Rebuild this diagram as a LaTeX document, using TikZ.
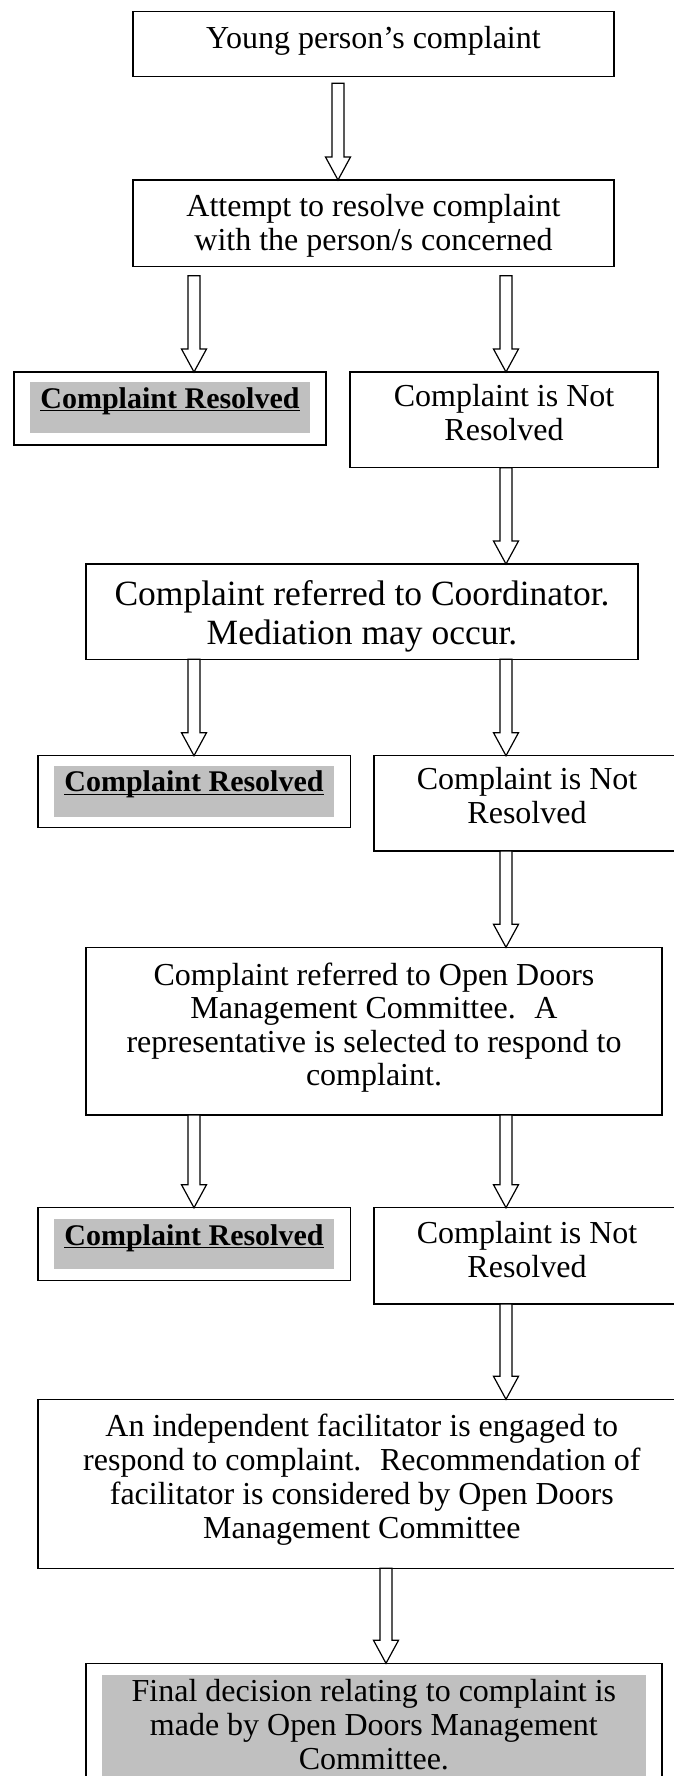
\documentclass[tikz,border=0pt]{standalone}
\usepackage{fontspec}
\setmainfont{Liberation Serif}
\usetikzlibrary{calc}
\definecolor{grayfill}{HTML}{C0C0C0}
\newcommand\myul[1]{\setbox0\hbox{#1}\rlap{\rule[-3.2bp]{\wd0}{1.3bp}}\box0}
\newcommand\blockarr[2]{%
  \draw[blockarrow] let \p1=(#1), \p2=(#2) in
    (\x1-6bp,\y1) -- (\x1+6bp,\y1) -- (\x1+6bp,\y2+23bp) -- (\x1+12.5bp,\y2+23bp)
    -- (\x1,\y2) -- (\x1-12.5bp,\y2+23bp) -- (\x1-6bp,\y2+23bp) -- cycle;}
\begin{document}
\begin{tikzpicture}[x=1bp,y=-1bp,
  box/.style={draw=black, line width=1.5bp, fill=white, inner sep=0pt, outer sep=0pt,
    anchor=north west, align=center, font=\fontsize{32bp}{34bp}\selectfont},
  graybox/.style={fill=grayfill, inner sep=0pt, outer sep=0pt, anchor=north west,
    align=center, font=\bfseries\fontsize{30bp}{34bp}\selectfont},
  blockarrow/.style={draw=black, fill=white, line width=1.2bp, line join=miter}]
\fill[white] (0,0) rectangle (674,1776);
\useasboundingbox (0,0) rectangle (674,1776);

\coordinate (xA) at (338,0);
\coordinate (xL) at (194,0);
\coordinate (xR) at (506,0);
\coordinate (xB) at (386,0);

\node[box, minimum width=481bp, text height=36.6bp, text depth=28bp] (b1) at (133,11.7)
  {Young person’s complaint};
\node[box, minimum width=481bp, text height=70.7bp, text depth=16bp] (b2) at (133,180)
  {Attempt to resolve complaint\\with the person/s concerned};

\node[box, minimum width=312bp, minimum height=73bp] (cr1) at (14,372) {};
\node[graybox, minimum width=280bp, text height=26bp, text depth=24.7bp] (g1) at (30,382)
  {\myul{Complaint Resolved}};
\node[box, minimum width=308bp, text height=68bp, text depth=27.7bp] (nr1) at (350,372)
  {Complaint is Not\\Resolved};

\node[box, minimum width=552bp, text height=80bp, text depth=15.3bp,
  font=\fontsize{35.5bp}{39bp}\selectfont] (co) at (86,564)
  {Complaint referred to Coordinator.\\Mediation may occur.};

\node[box, minimum width=312.4bp, minimum height=72bp] (cr2) at (38,755.7) {};
\node[graybox, minimum width=280bp, text height=25.7bp, text depth=25bp] (g2) at (54,766)
  {\myul{Complaint Resolved}};
\node[box, minimum width=306bp, text height=67.6bp, text depth=27.7bp] (nr2) at (374,755.7)
  {Complaint is Not\\Resolved};

\node[box, minimum width=576bp, text height=138.4bp, text depth=29.3bp,
  font=\fontsize{32bp}{33.5bp}\selectfont] (od) at (86,947.3)
  {Complaint referred to Open Doors\\Management Committee.~ A\\representative is selected to respond to\\complaint.};

\node[box, minimum width=312.4bp, minimum height=73bp] (cr3) at (38,1207.7) {};
\node[graybox, minimum width=280bp, text height=25.7bp, text depth=24.3bp] (g3) at (54,1219.3)
  {\myul{Complaint Resolved}};
\node[box, minimum width=306bp, text height=69.6bp, text depth=26.7bp] (nr3) at (374,1207.7)
  {Complaint is Not\\Resolved};

\node[box, minimum width=648bp, text height=139bp, text depth=30bp] (indep) at (37.8,1399.3)
  {An independent facilitator is engaged to\\respond to complaint.~ Recommendation of\\facilitator is considered by Open Doors\\Management Committee};

\node[box, minimum width=576bp, minimum height=140bp] (fi) at (86,1663.3) {};
\node[graybox, minimum width=544.3bp, text height=94bp, text depth=7bp,
  font=\fontsize{32bp}{34bp}\selectfont] (gf) at (101.7,1675)
  {Final decision relating to complaint is\\made by Open Doors Management\\Committee.};

\blockarr{$(b1.south -| xA)+(0,7)$}{b2.north -| xA}
\blockarr{$(b2.south -| xL)+(0,9)$}{cr1.north -| xL}
\blockarr{$(b2.south -| xR)+(0,9)$}{nr1.north -| xR}
\blockarr{nr1.south -| xR}{co.north -| xR}
\blockarr{co.south -| xL}{cr2.north -| xL}
\blockarr{co.south -| xR}{nr2.north -| xR}
\blockarr{nr2.south -| xR}{od.north -| xR}
\blockarr{od.south -| xL}{cr3.north -| xL}
\blockarr{od.south -| xR}{nr3.north -| xR}
\blockarr{nr3.south -| xR}{indep.north -| xR}
\blockarr{indep.south -| xB}{fi.north -| xB}
\end{tikzpicture}
\end{document}
